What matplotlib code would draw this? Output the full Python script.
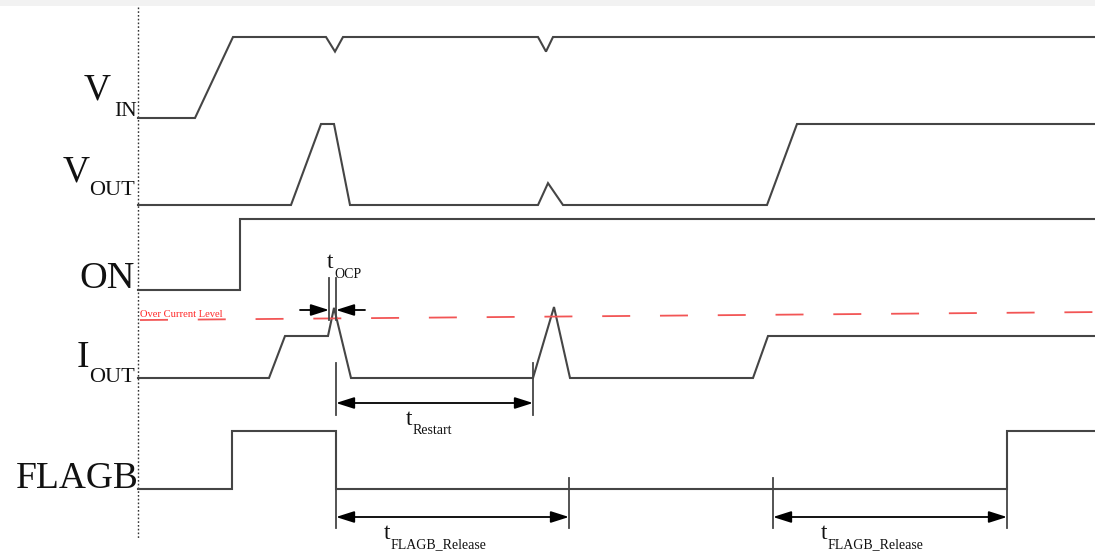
import matplotlib
matplotlib.use('Agg')
import matplotlib.pyplot as plt

# Timing diagram of the over-current / restart behaviour (time axis in arbitrary units)
t_end = 1095

signal_names = ['VIN', 'VOUT', 'ON', 'IOUT', 'FLAGB']

vin_t = [138, 195, 233, 326, 335, 343, 538, 546, 553, t_end]
vin_lv = [0, 0, 1, 1, 0.82, 1, 1, 0.82, 1, 1]

vout_t = [138, 291, 321, 334, 350, 538, 548, 563, 767, 797, t_end]
vout_lv = [0, 0, 1, 1, 0, 0, 0.27, 0, 0, 1, 1]

on_t = [138, 240, 240, t_end]
on_lv = [0, 0, 1, 1]

iout_t = [138, 269, 285, 328, 334, 351, 533, 554, 570, 753, 768, t_end]
iout_lv = [0, 0, 1, 1, 1.67, 0, 0, 1.69, 0, 0, 1, 1]

flagb_t = [138, 232, 232, 336, 336, 1007, 1007, t_end]
flagb_lv = [0, 0, 1, 1, 0, 0, 1, 1]

# over-current threshold (IOUT units), start and end of the dashed line
ocp_t = [140, t_end]
ocp_lv = [1.38, 1.57]

# timing intervals
t_ocp = (329, 336)
t_restart = (336, 533)
t_flagb_release = [(336, 569), (773, 1007)]

# row layout: baseline (px) and height of one "level"
rows = {
    'VIN': (118, 81),
    'VOUT': (205, 81),
    'ON': (290, 71),
    'IOUT': (378, 42),
    'FLAGB': (489, 58),
}

LINE = '#454545'
TXT = '#111111'
SERIF = ['Liberation Serif', 'DejaVu Serif']


def row_y(name, levels):
    base, amp = rows[name]
    return [base - lv * amp for lv in levels]


def dim_arrow(ax, x0, x1, y, style):
    ax.annotate('', xy=(x1, y), xytext=(x0, y),
                arrowprops=dict(arrowstyle=style + ',head_length=1.1,head_width=0.35',
                                color='black', lw=1.3, shrinkA=0, shrinkB=0,
                                mutation_scale=10))


def t_label(ax, x, y, sub, dy=9):
    ax.text(x, y, 't', fontsize=17, family=SERIF, color=TXT, va='baseline', ha='left')
    ax.text(x + 7, y + dy, sub, fontsize=10, family=SERIF, color=TXT, va='baseline', ha='left')


fig = plt.figure(figsize=(10.95, 5.55), dpi=100)
ax = fig.add_axes([0, 0, 1, 1])
ax.set_xlim(0, 1095)
ax.set_ylim(555, 0)
ax.axis('off')

# faint band at the top of the screenshot
ax.axhspan(0, 6, color='#f2f2f2', lw=0)

# dotted reference line
ax.plot([138, 138], [7, 538], color='#333333', lw=1.0, linestyle=(0, (1.2, 1.5)))

waves = [('VIN', vin_t, vin_lv), ('VOUT', vout_t, vout_lv), ('ON', on_t, on_lv),
         ('IOUT', iout_t, iout_lv), ('FLAGB', flagb_t, flagb_lv)]
for name, tt, lv in waves:
    ax.plot(tt, row_y(name, lv), color=LINE, lw=1.5, solid_joinstyle='miter')

# over current level
ocp_line, = ax.plot(ocp_t, row_y('IOUT', ocp_lv), color='#f25555', lw=1.3)
ocp_line.set_dashes((15.5, 16.5))
ax.text(140, 317, 'Over Current Level', fontsize=7.6, family=SERIF, color='#ff2a2a',
        va='baseline', ha='left')

# signal labels
ax.text(84, 99, 'V', fontsize=27, family=SERIF, color=TXT, va='baseline')
ax.text(114, 116, 'IN', fontsize=15.5, family=SERIF, color=TXT, va='baseline')
ax.text(63, 181, 'V', fontsize=27, family=SERIF, color=TXT, va='baseline')
ax.text(89, 195, 'OUT', fontsize=16, family=SERIF, color=TXT, va='baseline')
ax.text(79, 288, 'ON', fontsize=27.5, family=SERIF, color=TXT, va='baseline')
ax.text(77, 367, 'I', fontsize=27, family=SERIF, color=TXT, va='baseline')
ax.text(89, 382, 'OUT', fontsize=16, family=SERIF, color=TXT, va='baseline')
ax.text(16, 488, 'FLAGB', fontsize=27, family=SERIF, color=TXT, va='baseline')

# tOCP
for x in t_ocp:
    ax.plot([x, x], [278, 320], color=LINE, lw=1.3)
dim_arrow(ax, t_ocp[0] - 29, t_ocp[0], 310, '-|>')
dim_arrow(ax, t_ocp[1] + 29, t_ocp[1], 310, '-|>')
t_label(ax, 327, 268, 'OCP', dy=10)

# tRestart
for x in t_restart:
    ax.plot([x, x], [363, 415], color=LINE, lw=1.3)
dim_arrow(ax, t_restart[0], t_restart[1], 403, '<|-|>')
t_label(ax, 406, 425, 'Restart')

# tFLAGB_Release
for a, b in t_flagb_release:
    ax.plot([a, a], [478, 528], color=LINE, lw=1.3)
    ax.plot([b, b], [478, 528], color=LINE, lw=1.3)
    dim_arrow(ax, a, b, 517, '<|-|>')
    t_label(ax, a + 48, 539, 'FLAGB_Release')

fig.savefig('out.png', dpi=100, facecolor='white')
